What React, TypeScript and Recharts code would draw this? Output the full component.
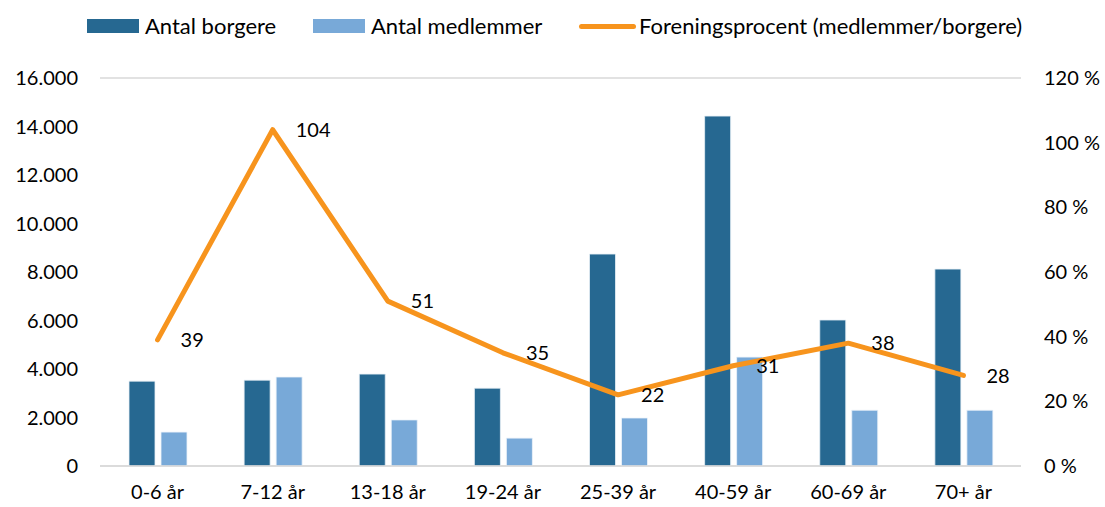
import { ComposedChart, Bar, Line, XAxis, YAxis, CartesianGrid, LabelList } from 'recharts'

const categories = ['0-6 år', '7-12 år', '13-18 år', '19-24 år', '25-39 år', '40-59 år', '60-69 år', '70+ år']
const borgere = [3500, 3540, 3790, 3210, 8740, 14430, 6020, 8120]
const medlemmer = [1400, 3670, 1900, 1150, 1980, 4490, 2300, 2300]
const procent = [39, 104, 51, 35, 22, 31, 38, 28]

const leftTicks = [0, 2000, 4000, 6000, 8000, 10000, 12000, 14000, 16000]
const rightTicks = [0, 20, 40, 60, 80, 100, 120]

const FONT = 'Lato, "Open Sans", sans-serif'
const DARK = '#266891'
const LIGHT = '#78a9d8'
const ORANGE = '#f7941d'

const data = categories.map((c, i) => ({
  cat: c,
  borgere: borgere[i],
  medlemmer: medlemmer[i],
  procent: procent[i],
}))

function fmtThousands(v: number): string {
  return v.toString().replace(/\B(?=(\d{3})+(?!\d))/g, '.')
}

// Value label to the right of each line point
function PctLabel(props: any) {
  const { x, y, value } = props
  return (
    <text x={x + 23} y={y + 2} fontSize={20} fill="#000" fontFamily={FONT} dominantBaseline="middle">
      {value}
    </text>
  )
}

function LegendRow() {
  const item = { display: 'flex', alignItems: 'center', position: 'absolute' as const, top: 12, height: 28 }
  const txt = { fontSize: 22, lineHeight: '28px', color: '#000', fontFamily: FONT, whiteSpace: 'nowrap' as const }
  return (
    <>
      <div style={{ ...item, left: 87 }}>
        <div style={{ width: 52, height: 14, background: DARK, marginRight: 6 }} />
        <span style={txt}>Antal borgere</span>
      </div>
      <div style={{ ...item, left: 313 }}>
        <div style={{ width: 52, height: 14, background: LIGHT, marginRight: 6 }} />
        <span style={txt}>Antal medlemmer</span>
      </div>
      <div style={{ ...item, left: 579 }}>
        <div style={{ width: 57, height: 5, borderRadius: 3, background: ORANGE, marginRight: 3 }} />
        <span style={txt}>Foreningsprocent (medlemmer/borgere)</span>
      </div>
    </>
  )
}

export default function App() {
  return (
    <div style={{ position: 'absolute', left: 0, top: 0, width: 1105, height: 507, background: '#fff' }}>
      <LegendRow />
      <ComposedChart
        width={1105}
        height={507}
        data={data}
        margin={{ top: 78, right: 0, left: 0, bottom: 0 }}
        barGap={6}
        barSize={26}
      >
        <CartesianGrid vertical={false} stroke="#d9d9d9" strokeWidth={1.5} />
        <XAxis
          dataKey="cat"
          height={41}
          axisLine={{ stroke: '#d9d9d9', strokeWidth: 1.5 }}
          tickLine={false}
          tickSize={0}
          tickMargin={19}
          tick={{ fontSize: 20, fill: '#000', fontFamily: FONT }}
          interval={0}
        />
        <YAxis
          yAxisId="left"
          width={100}
          domain={[0, 16000]}
          ticks={leftTicks}
          tickFormatter={fmtThousands}
          axisLine={false}
          tickLine={false}
          tickSize={0}
          tickMargin={22}
          tick={{ fontSize: 20, fill: '#000', fontFamily: FONT }}
        />
        <YAxis
          yAxisId="right"
          orientation="right"
          width={84}
          domain={[0, 120]}
          ticks={rightTicks}
          tickFormatter={(v: number) => `${v} %`}
          axisLine={false}
          tickLine={false}
          tickSize={0}
          tickMargin={23}
          tick={{ fontSize: 20, fill: '#000', fontFamily: FONT, textAnchor: 'start' }}
        />
        <Bar yAxisId="left" dataKey="borgere" fill={DARK} stroke="#e8f0f6" strokeWidth={0.8} isAnimationActive={false} />
        <Bar yAxisId="left" dataKey="medlemmer" fill={LIGHT} stroke="#eef4fa" strokeWidth={0.8} isAnimationActive={false} />
        <Line
          yAxisId="right"
          type="linear"
          dataKey="procent"
          stroke={ORANGE}
          strokeWidth={5}
          strokeLinecap="round"
          strokeLinejoin="round"
          dot={false}
          isAnimationActive={false}
        >
          <LabelList dataKey="procent" content={PctLabel} />
        </Line>
      </ComposedChart>
    </div>
  )
}
